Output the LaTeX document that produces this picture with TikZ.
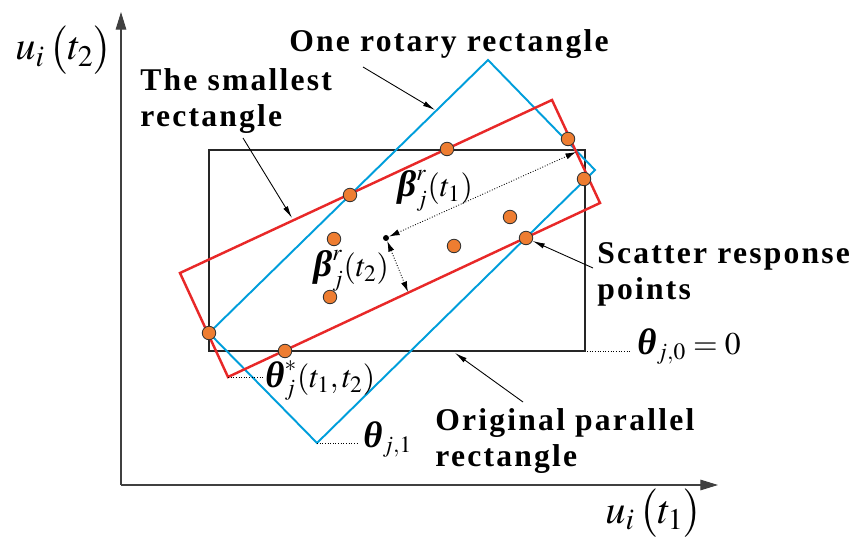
\documentclass[tikz,border=0pt]{standalone}
\usepackage{mathptmx}
\usepackage{amsmath}
\usepackage{fontspec}
\setmainfont{Liberation Serif}
\usetikzlibrary{arrows.meta}
\definecolor{rotblue}{RGB}{0,158,219}
\definecolor{minred}{RGB}{232,40,40}
\definecolor{spotorange}{RGB}{238,125,49}
\newcommand{\bgr}[1]{\text{\fontsize{21}{24}\selectfont\bfseries\itshape #1}}
\tikzset{
  axis/.style={draw=black!75, line width=0.6pt, -{Triangle[length=10pt, width=6pt]}},
  origrect/.style={draw=black!85, line width=0.9pt},
  rotrect/.style={draw=rotblue, line width=1.1pt, line join=miter},
  minrect/.style={draw=minred, line width=1.4pt, line join=miter},
  spot/.style={circle, draw=black!80, fill=spotorange, line width=0.5pt,
               minimum size=0.27cm, inner sep=0pt},
  centre/.style={circle, fill=black, minimum size=0.12cm, inner sep=0pt},
  textlbl/.style={font=\fontsize{18}{20.5}\selectfont\bfseries\addfontfeature{LetterSpace=7},
                  anchor=base west, align=left, inner sep=0pt},
  mathlbl/.style={font=\fontsize{18}{22}\selectfont, anchor=base west, inner sep=0pt},
  axislbl/.style={font=\fontsize{23}{27}\selectfont, anchor=base west, inner sep=0pt},
  pointer/.style={-{Latex[length=7pt, width=3pt]}, line width=0.5pt},
  measure/.style={{Latex[length=6pt, width=3.5pt]}-{Latex[length=6pt, width=3.5pt]},
                  densely dotted, line width=0.5pt},
  lead/.style={densely dotted, line width=0.5pt},
}

\begin{document}
\begin{tikzpicture}[x=0.02cm, y=-0.02cm]
  \useasboundingbox (0,0) rectangle (862,543);

  % Axes
  \coordinate (origin) at (121,485);
  \coordinate (ytip) at (121,12);
  \coordinate (xtip) at (718,485);
  \draw[axis] (origin) -- (ytip);
  \draw[axis] (origin) -- (xtip);

  % Original parallel rectangle
  \coordinate (o1) at (209,150);
  \coordinate (o2) at (585,351);
  \draw[origrect] (o1) rectangle (o2);

  % One rotary rectangle
  \coordinate (b1) at (209,333);
  \coordinate (b2) at (488,60);
  \coordinate (b3) at (595,170);
  \coordinate (b4) at (317,443);
  \draw[rotrect] (b1) -- (b2) -- (b3) -- (b4) -- cycle;

  % The smallest rectangle
  \coordinate (r1) at (180,273);
  \coordinate (r2) at (552,100);
  \coordinate (r3) at (600,203);
  \coordinate (r4) at (228,377);
  \draw[minrect] (r1) -- (r2) -- (r3) -- (r4) -- cycle;

  % Scatter response points
  \foreach \name/\px/\py in {p1/209/333, p2/285/351, p3/350/195, p4/447/149,
                             p5/568/139, p6/584/179, p7/510/217, p8/526/238,
                             p9/454/246, p10/334/239, p11/330/297}
    \node[spot] (\name) at (\px,\py) {};

  % Centre and half widths
  \node[centre] (ctr) at (386,238) {};
  \coordinate (e1) at (576,152);
  \coordinate (e2) at (408,292);
  \draw[measure] (ctr) -- (e1);
  \draw[measure] (ctr) -- (e2);
  \node[mathlbl] (bt1) at (397,197) {$\bgr{β}^{r}_{j}(t_1)$};
  \node[mathlbl] (bt2) at (313,277) {$\bgr{β}^{r}_{j}(t_2)$};

  % Angles
  \coordinate (c0) at (587,351);
  \coordinate (a0) at (630,351);
  \coordinate (as) at (263,377);
  \coordinate (a1) at (358,443);
  \draw[lead] (c0) -- (a0);
  \draw[lead] (r4) -- (as);
  \draw[lead] (b4) -- (a1);
  \node[mathlbl] (th0) at (637,355) {$\bgr{θ}_{j,0}=0$};
  \node[mathlbl] (ths) at (265,388) {$\bgr{θ}^{*}_{j}(t_1,t_2)$};
  \node[mathlbl] (th1) at (363,448) {$\bgr{θ}_{j,1}$};

  % Axis labels
  \node[axislbl] (uy) at (15,60) {$u_i\,\bigl(t_2\bigr)$};
  \node[axislbl] (ux) at (605,523) {$u_i\,\bigl(t_1\bigr)$};

  % Labels
  \node[textlbl] (lrot) at (289,52) {One rotary rectangle};
  \node[textlbl] (lmin) at (140,127) {The smallest\\rectangle};
  \node[textlbl] (lsct) at (597,300) {Scatter response\\points};
  \node[textlbl] (lorg) at (435,467) {Original parallel\\rectangle};

  \coordinate (s1) at (363,67);
  \coordinate (t1) at (435,110);
  \coordinate (s2) at (243,138);
  \coordinate (t2) at (292,218);
  \coordinate (s3) at (593,268);
  \coordinate (s4) at (523,402);
  \coordinate (t4) at (455,353);
  \draw[pointer] (s1) -- (t1);
  \draw[pointer] (s2) -- (t2);
  \draw[pointer] (s3) -- (p8);
  \draw[pointer] (s4) -- (t4);

\end{tikzpicture}
\end{document}
